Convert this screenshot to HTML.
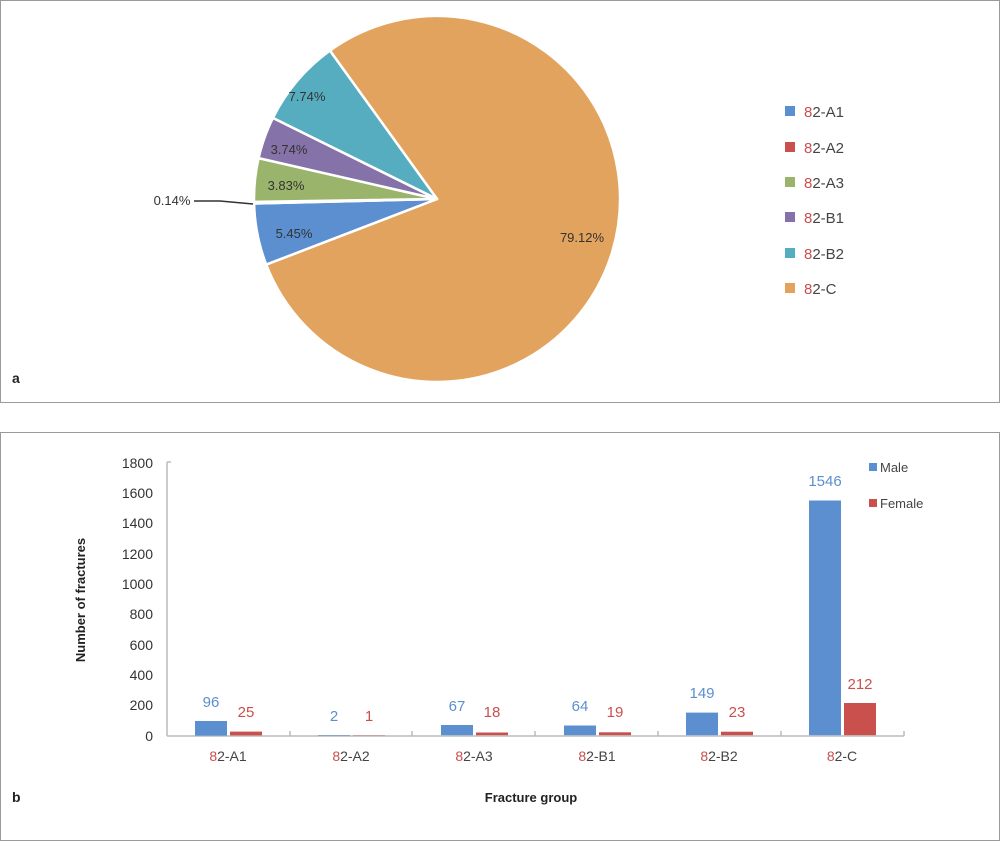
<!DOCTYPE html>
<html><head><meta charset="utf-8"><style>body{margin:0;background:#fff}svg{display:block;font-family:"Liberation Sans","DejaVu Sans",sans-serif}</style></head><body>
<svg width="1000" height="841" viewBox="0 0 1000 841">
<rect x="0.5" y="0.5" width="999" height="402" fill="#fff" stroke="#9a9a9a"/>
<rect x="0.5" y="432.5" width="999" height="408" fill="#fff" stroke="#9a9a9a"/>
<g stroke="#fff" stroke-width="2.5" stroke-linejoin="round">
<path d="M437,199 L329.9,50.6 A183,183 0 1 1 266.2,264.6 Z" fill="#e2a35e"/>
<path d="M437,199 L266.2,264.6 A183,183 0 0 1 254.1,203.5 Z" fill="#5b8fcf"/>
<path d="M437,199 L254.1,203.5 A183,183 0 0 1 254.0,201.9 Z" fill="#c9504d"/>
<path d="M437,199 L254.0,201.9 A183,183 0 0 1 258.6,158.1 Z" fill="#9bb46c"/>
<path d="M437,199 L258.6,158.1 A183,183 0 0 1 272.9,117.9 Z" fill="#8572a8"/>
<path d="M437,199 L272.9,117.9 A183,183 0 0 1 329.9,50.6 Z" fill="#56adc0"/>
</g>
<g font-size="13" fill="#333" text-anchor="middle">
<text x="307" y="101">7.74%</text>
<text x="289" y="154">3.74%</text>
<text x="286" y="190">3.83%</text>
<text x="294" y="238">5.45%</text>
<text x="582" y="242">79.12%</text>
<text x="172" y="205">0.14%</text>
</g>
<path d="M194,201 L220,201 L253,204" stroke="#333" stroke-width="1.5" fill="none"/>
<g font-size="15" fill="#444">
<rect x="785" y="106" width="10" height="10" fill="#5b8fcf"/><text x="804" y="117"><tspan fill="#c9504d">8</tspan>2-A1</text>
<rect x="785" y="142" width="10" height="10" fill="#c9504d"/><text x="804" y="153"><tspan fill="#c9504d">8</tspan>2-A2</text>
<rect x="785" y="177" width="10" height="10" fill="#9bb46c"/><text x="804" y="188"><tspan fill="#c9504d">8</tspan>2-A3</text>
<rect x="785" y="212" width="10" height="10" fill="#8572a8"/><text x="804" y="223"><tspan fill="#c9504d">8</tspan>2-B1</text>
<rect x="785" y="248" width="10" height="10" fill="#56adc0"/><text x="804" y="259"><tspan fill="#c9504d">8</tspan>2-B2</text>
<rect x="785" y="283" width="10" height="10" fill="#e2a35e"/><text x="804" y="294"><tspan fill="#c9504d">8</tspan>2-C</text>
</g>
<text x="12" y="383" font-size="14" font-weight="bold" fill="#222">a</text>
<text x="12" y="802" font-size="14" font-weight="bold" fill="#222">b</text>
<!-- bar chart -->
<g stroke="#bbb" stroke-width="1.5">
<line x1="167" y1="462" x2="167" y2="736"/>
<line x1="167" y1="736" x2="904" y2="736"/>
<line x1="167" y1="462" x2="171" y2="462"/>
<line x1="290" y1="731" x2="290" y2="736"/><line x1="412" y1="731" x2="412" y2="736"/><line x1="535" y1="731" x2="535" y2="736"/><line x1="658" y1="731" x2="658" y2="736"/><line x1="781" y1="731" x2="781" y2="736"/><line x1="904" y1="731" x2="904" y2="736"/>
</g>
<g font-size="14" fill="#333" text-anchor="end">
<text x="153" y="468">1800</text><text x="153" y="498">1600</text><text x="153" y="528">1400</text><text x="153" y="559">1200</text><text x="153" y="589">1000</text><text x="153" y="619">800</text><text x="153" y="650">600</text><text x="153" y="680">400</text><text x="153" y="710">200</text><text x="153" y="741">0</text>
</g>
<text transform="translate(85,600) rotate(-90)" font-size="13" font-weight="bold" fill="#222" text-anchor="middle">Number of fractures</text>
<text x="531" y="802" font-size="13" font-weight="bold" fill="#222" text-anchor="middle">Fracture group</text>
<g fill="#5b8fcf">
<rect x="195" y="721" width="32" height="14.6"/><rect x="318" y="735" width="32" height="0.5"/><rect x="441" y="725" width="32" height="10.2"/><rect x="564" y="725.5" width="32" height="9.7"/><rect x="686" y="712.6" width="32" height="22.6"/><rect x="809" y="500.5" width="32" height="234.7"/>
</g>
<g fill="#c9504d">
<rect x="230" y="731.6" width="32" height="3.8"/><rect x="353" y="735" width="32" height="0.3"/><rect x="476" y="732.5" width="32" height="2.7"/><rect x="599" y="732.3" width="32" height="2.9"/><rect x="721" y="731.7" width="32" height="3.5"/><rect x="844" y="703" width="32" height="32.2"/>
</g>
<g font-size="15" text-anchor="middle" fill="#5b8fcf">
<text x="211" y="707">96</text><text x="334" y="721">2</text><text x="457" y="711">67</text><text x="580" y="711">64</text><text x="702" y="698">149</text><text x="825" y="486">1546</text>
</g>
<g font-size="15" text-anchor="middle" fill="#c9504d">
<text x="246" y="717">25</text><text x="369" y="721">1</text><text x="492" y="717">18</text><text x="615" y="717">19</text><text x="737" y="717">23</text><text x="860" y="689">212</text>
</g>
<g font-size="14" fill="#444" text-anchor="middle">
<text x="228" y="761"><tspan fill="#c9504d">8</tspan>2-A1</text>
<text x="351" y="761"><tspan fill="#c9504d">8</tspan>2-A2</text>
<text x="474" y="761"><tspan fill="#c9504d">8</tspan>2-A3</text>
<text x="597" y="761"><tspan fill="#c9504d">8</tspan>2-B1</text>
<text x="719" y="761"><tspan fill="#c9504d">8</tspan>2-B2</text>
<text x="842" y="761"><tspan fill="#c9504d">8</tspan>2-C</text>
</g>
<rect x="869" y="463" width="8" height="8" fill="#5b8fcf"/><text x="880" y="472" font-size="13" fill="#444">Male</text>
<rect x="869" y="499" width="8" height="8" fill="#c9504d"/><text x="880" y="508" font-size="13" fill="#444">Female</text>
</svg>
</body></html>
